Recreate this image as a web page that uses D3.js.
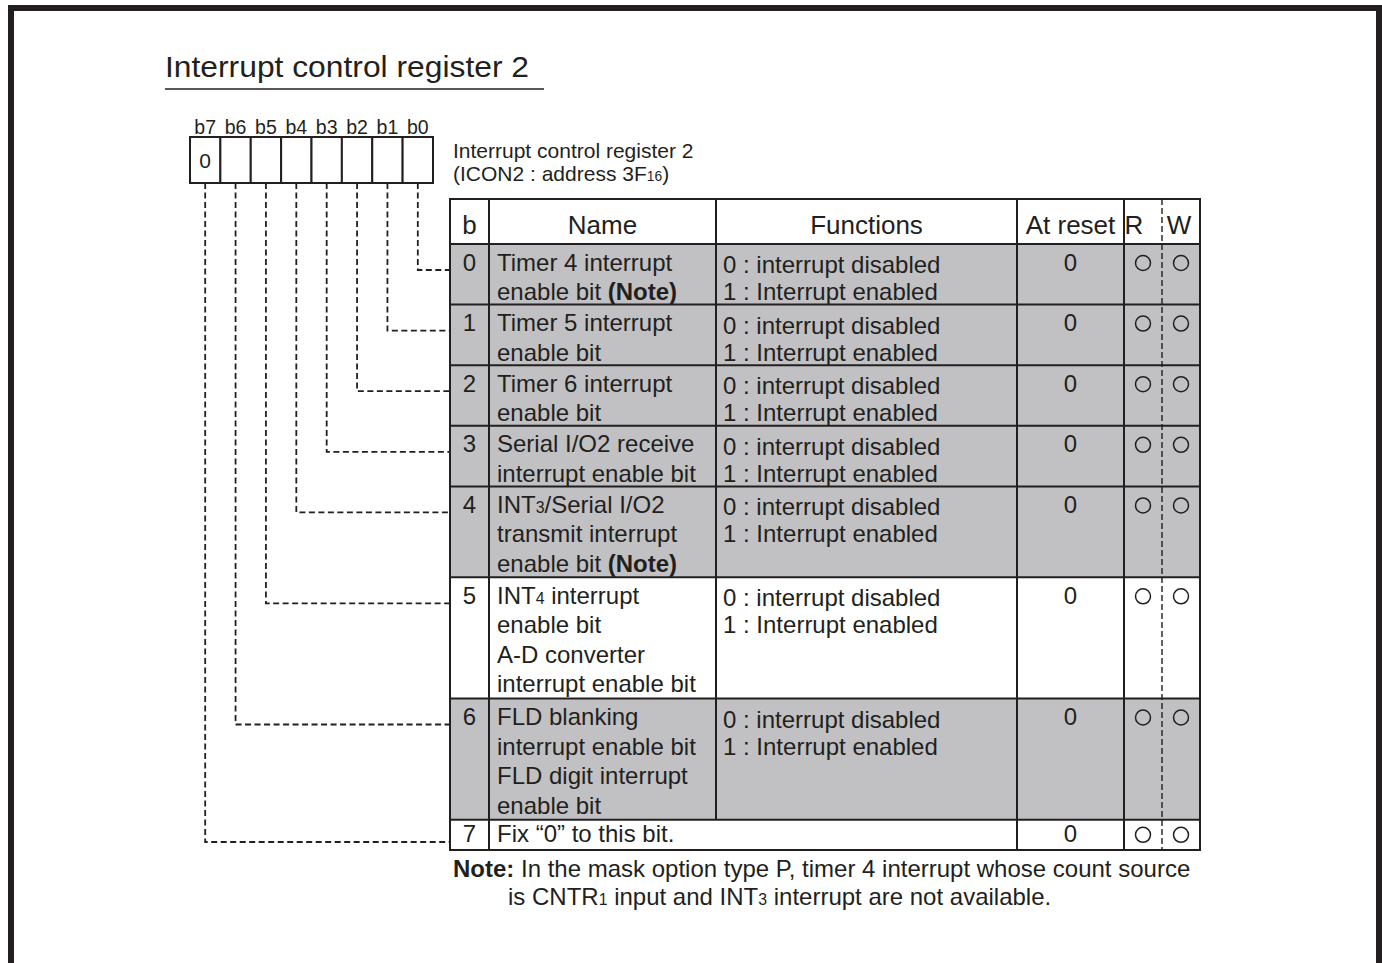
<!DOCTYPE html>
<html><head><meta charset="utf-8">
<script src="https://cdn.jsdelivr.net/npm/d3@7/dist/d3.min.js"></script>
<style>
html,body{margin:0;padding:0;background:#fff;overflow:hidden}
text{font-family:"Liberation Sans",Arial,sans-serif;fill:#231f20}
</style></head>
<body>
<svg id="c" width="1382" height="963"></svg>
<script>
// ---------- data ----------
const title = "Interrupt control register 2";
const bitLabels = ["b7","b6","b5","b4","b3","b2","b1","b0"];
const bitValues = ["0","","","","","","",""];
const regName = "Interrupt control register 2";
const regAddr = "(ICON2 : address 3F{16})";
const headers = ["b","Name","Functions","At reset","R","W"];
const bits = [0,1,2,3,4,5,6,7];
const names = [
  ["Timer 4 interrupt","enable bit **(Note)**"],
  ["Timer 5 interrupt","enable bit"],
  ["Timer 6 interrupt","enable bit"],
  ["Serial I/O2 receive","interrupt enable bit"],
  ["INT{3}/Serial I/O2","transmit interrupt","enable bit **(Note)**"],
  ["INT{4} interrupt","enable bit","A-D converter","interrupt enable bit"],
  ["FLD blanking","interrupt enable bit","FLD digit interrupt","enable bit"],
  ["Fix “0” to this bit."]
];
const functions = [
  ["0 : interrupt disabled","1 : Interrupt enabled"],
  ["0 : interrupt disabled","1 : Interrupt enabled"],
  ["0 : interrupt disabled","1 : Interrupt enabled"],
  ["0 : interrupt disabled","1 : Interrupt enabled"],
  ["0 : interrupt disabled","1 : Interrupt enabled"],
  ["0 : interrupt disabled","1 : Interrupt enabled"],
  ["0 : interrupt disabled","1 : Interrupt enabled"],
  []
];
const resetValues = ["0","0","0","0","0","0","0","0"];
const readable = [true,true,true,true,true,true,true,true];
const writable = [true,true,true,true,true,true,true,true];
const shaded = [true,true,true,true,true,false,true,false];
const noteLines = ["**Note:** In the mask option type P, timer 4 interrupt whose count source",
                   "is CNTR{1} input and INT{3} interrupt are not available."];

// ---------- layout ----------
const INK = "#231f20", GRAY = "#c1c1c3";
const svg = d3.select("#c");
const col = {left:450, bEnd:489, nameEnd:716, funcEnd:1017, rEnd:1162, rStart:1124, right:1200};
const tableTop = 199, headBottom = 244, tableBottom = 850;

function rich(sel, str, size){
  const parts = str.split(/(\*\*.+?\*\*|\{.+?\})/).filter(s=>s.length);
  parts.forEach(p=>{
    if(p.startsWith("**")){
      sel.append("tspan").attr("font-weight","bold").text(p.slice(2,-2));
    } else if(p.startsWith("{")){
      sel.append("tspan").attr("font-size",(size*0.66)+"px").text(p.slice(1,-1));
    } else sel.append("tspan").text(p);
  });
}

// outer frame
svg.append("rect").attr("x",11).attr("y",8).attr("width",1368).attr("height",1100)
  .attr("fill","none").attr("stroke",INK).attr("stroke-width",6);

// title
svg.append("text").attr("x",165).attr("y",77).attr("font-size","30px")
  .attr("textLength",364).attr("lengthAdjust","spacingAndGlyphs").text(title);
svg.append("line").attr("x1",165).attr("x2",544).attr("y1",89).attr("y2",89)
  .attr("stroke",INK).attr("stroke-width",1.5);

// register boxes
const xb = d3.scaleBand().domain(bitLabels).range([190,433]);
svg.selectAll(".bl").data(bitLabels).join("text")
  .attr("x",d=>xb(d)+xb.bandwidth()/2).attr("y",134).attr("text-anchor","middle")
  .attr("font-size","19.5px").text(d=>d);
svg.selectAll(".bx").data(bitLabels).join("rect")
  .attr("x",d=>xb(d)).attr("y",137).attr("width",xb.bandwidth()).attr("height",46)
  .attr("fill","#fff").attr("stroke",INK).attr("stroke-width",2);
svg.selectAll(".bv").data(bitLabels).join("text")
  .attr("x",d=>xb(d)+xb.bandwidth()/2).attr("y",168).attr("text-anchor","middle")
  .attr("font-size","21px").text((d,i)=>bitValues[i]);

// register name
svg.append("text").attr("x",453).attr("y",158).attr("font-size","21px").text(regName);
rich(svg.append("text").attr("x",453).attr("y",181).attr("font-size","21px"), regAddr, 21);

// row geometry
const units = names.map(n=>n.length);
const cum = [0]; units.forEach((u,i)=>cum.push(cum[i]+u));
const y = d3.scaleLinear().domain([0,cum[cum.length-1]]).range([headBottom,tableBottom]);
const rows = bits.map((b,i)=>({b, i, top:y(cum[i]), bottom:y(cum[i+1])}));

// fills
svg.selectAll(".rf").data(rows).join("rect")
  .attr("x",col.left).attr("y",d=>d.top).attr("width",col.right-col.left)
  .attr("height",d=>d.bottom-d.top).attr("fill",d=>shaded[d.i]?GRAY:"#fff");

// connectors (dashed)
const dash = "6,3.5";
rows.forEach(r=>{
  const bx = xb("b"+r.b)+xb.bandwidth()/2;
  const cy = r.top + Math.min(26, r.bottom-r.top-8);
  svg.append("path").attr("d",`M${bx},183 V${cy} H${col.left}`)
    .attr("fill","none").attr("stroke",INK).attr("stroke-width",1.8).attr("stroke-dasharray",dash);
});

// grid lines
const g = svg.append("g").attr("stroke",INK).attr("stroke-width",2);
g.append("rect").attr("x",col.left).attr("y",tableTop).attr("width",col.right-col.left)
  .attr("height",tableBottom-tableTop).attr("fill","none");
g.append("line").attr("x1",col.left).attr("x2",col.right).attr("y1",headBottom).attr("y2",headBottom);
rows.forEach(r=>{
  g.append("line").attr("x1",col.left).attr("x2",col.right).attr("y1",r.bottom).attr("y2",r.bottom);
});
[col.bEnd, col.funcEnd, col.rStart].forEach(x=>{
  g.append("line").attr("x1",x).attr("x2",x).attr("y1",tableTop).attr("y2",tableBottom);
});
g.append("line").attr("x1",col.nameEnd).attr("x2",col.nameEnd).attr("y1",tableTop).attr("y2",rows[7].top);
svg.append("line").attr("x1",col.rEnd).attr("x2",col.rEnd).attr("y1",tableTop).attr("y2",tableBottom)
  .attr("stroke",INK).attr("stroke-width",1.4).attr("stroke-dasharray","6,3");

// headers
const hx = [(col.left+col.bEnd)/2,(col.bEnd+col.nameEnd)/2,(col.nameEnd+col.funcEnd)/2,(col.funcEnd+col.rStart)/2,1134,1179];
svg.selectAll(".hd").data(headers).join("text")
  .attr("x",(d,i)=>hx[i]).attr("y",234).attr("text-anchor","middle").attr("font-size","26px").text(d=>d);

// row contents
const FS = 24;
rows.forEach(r=>{
  const h = r.bottom - r.top;
  const base = r.top + Math.min(26.5, h - 8);
  svg.append("text").attr("x",(col.left+col.bEnd)/2).attr("y",base).attr("text-anchor","middle")
    .attr("font-size",FS+"px").text(r.b);
  names[r.i].forEach((ln,k)=>{
    rich(svg.append("text").attr("x",497).attr("y",base+k*29.5).attr("font-size",FS+"px"), ln, FS);
  });
  functions[r.i].forEach((ln,k)=>{
    svg.append("text").attr("x",723).attr("y",r.top+29+k*27).attr("font-size",FS+"px").text(ln);
  });
  svg.append("text").attr("x",(col.funcEnd+col.rStart)/2).attr("y",base).attr("text-anchor","middle")
    .attr("font-size",FS+"px").text(resetValues[r.i]);
  const cy = r.top + Math.min(19, h/2);
  if(readable[r.i]) svg.append("circle").attr("cx",1143).attr("cy",cy).attr("r",7.5)
    .attr("fill","none").attr("stroke",INK).attr("stroke-width",1.5);
  if(writable[r.i]) svg.append("circle").attr("cx",1181).attr("cy",cy).attr("r",7.5)
    .attr("fill","none").attr("stroke",INK).attr("stroke-width",1.5);
});

// note
rich(svg.append("text").attr("x",453).attr("y",877).attr("font-size","24px"), noteLines[0], 24);
rich(svg.append("text").attr("x",508).attr("y",905).attr("font-size","24px"), noteLines[1], 24);
</script>
</body></html>
